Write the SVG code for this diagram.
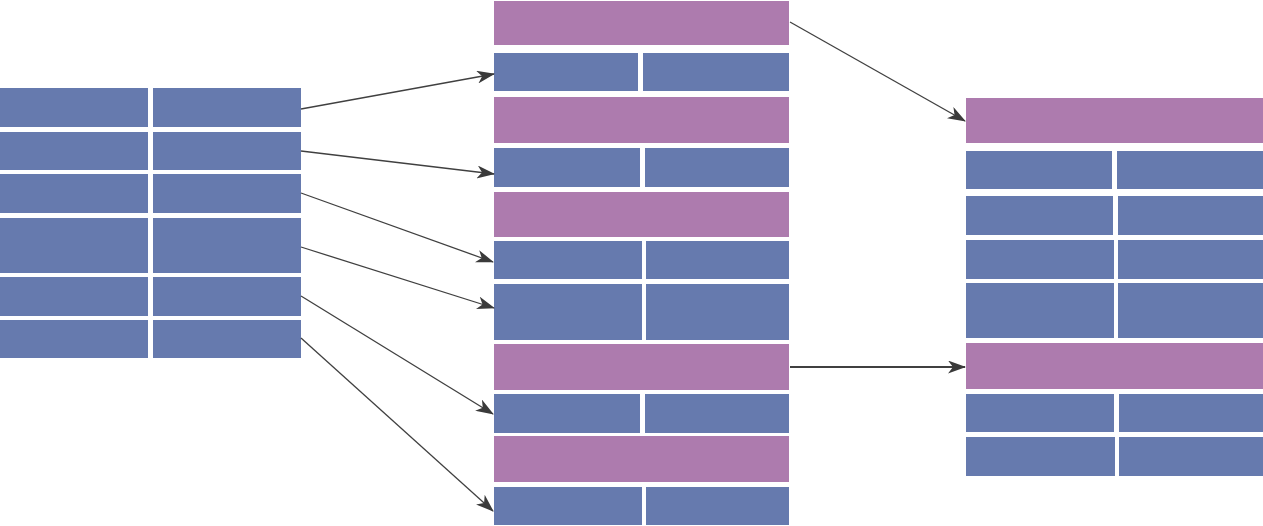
<svg xmlns="http://www.w3.org/2000/svg" width="1263" height="526" viewBox="0 0 1263 526">
<style>
.b{fill:#667aae}
.p{fill:#ad7bae}
.c{stroke:#404040;stroke-width:1.3;fill:none;marker-end:url(#ah)}
</style>
<defs>
<marker id="ah" markerUnits="userSpaceOnUse" markerWidth="18" markerHeight="13" refX="17" refY="6.5" orient="auto" viewBox="0 0 18 13">
<path d="M0,0 L18,6.5 L0,13 L5,6.5 z" fill="#3a3a3a"/>
</marker>
</defs>
<rect width="1263" height="526" fill="#ffffff"/>
<g id="left-table">
<rect class="b" x="0" y="88" width="148" height="39"/><rect class="b" x="153" y="88" width="148" height="39"/>
<rect class="b" x="0" y="132" width="148" height="38"/><rect class="b" x="153" y="132" width="148" height="38"/>
<rect class="b" x="0" y="174" width="148" height="39"/><rect class="b" x="153" y="174" width="148" height="39"/>
<rect class="b" x="0" y="218" width="148" height="55"/><rect class="b" x="153" y="218" width="148" height="55"/>
<rect class="b" x="0" y="277" width="148" height="39"/><rect class="b" x="153" y="277" width="148" height="39"/>
<rect class="b" x="0" y="320" width="148" height="38"/><rect class="b" x="153" y="320" width="148" height="38"/>
</g>
<g id="middle-table">
<rect class="p" x="494" y="1" width="295" height="44"/>
<rect class="b" x="494" y="53" width="144" height="38"/><rect class="b" x="643" y="53" width="146" height="38"/>
<rect class="p" x="494" y="97" width="295" height="46"/>
<rect class="b" x="494" y="148" width="146" height="39"/><rect class="b" x="645" y="148" width="144" height="39"/>
<rect class="p" x="494" y="192" width="295" height="45"/>
<rect class="b" x="494" y="241" width="148" height="38"/><rect class="b" x="646" y="241" width="143" height="38"/>
<rect class="b" x="494" y="284" width="148" height="56"/><rect class="b" x="646" y="284" width="143" height="56"/>
<rect class="p" x="494" y="344" width="295" height="46"/>
<rect class="b" x="494" y="394" width="146" height="39"/><rect class="b" x="645" y="394" width="144" height="39"/>
<rect class="p" x="494" y="436" width="295" height="46"/>
<rect class="b" x="494" y="487" width="148" height="38"/><rect class="b" x="646" y="487" width="143" height="38"/>
</g>
<g id="right-table">
<rect class="p" x="966" y="98" width="297" height="45"/>
<rect class="b" x="966" y="151" width="146" height="38"/><rect class="b" x="1117" y="151" width="146" height="38"/>
<rect class="b" x="966" y="196" width="147" height="39"/><rect class="b" x="1118" y="196" width="145" height="39"/>
<rect class="b" x="966" y="240" width="148" height="39"/><rect class="b" x="1118" y="240" width="145" height="39"/>
<rect class="b" x="966" y="283" width="148" height="55"/><rect class="b" x="1118" y="283" width="145" height="55"/>
<rect class="p" x="966" y="343" width="297" height="46"/>
<rect class="b" x="966" y="394" width="148" height="38"/><rect class="b" x="1119" y="394" width="144" height="38"/>
<rect class="b" x="966" y="437" width="149" height="39"/><rect class="b" x="1119" y="437" width="144" height="39"/>
</g>
<g id="connectors">
<line class="c" x1="301" y1="109" x2="494" y2="74"/>
<line class="c" x1="301" y1="151" x2="494" y2="174"/>
<line class="c" x1="301" y1="193" x2="493" y2="262"/>
<line class="c" x1="301" y1="247" x2="494" y2="308"/>
<line class="c" x1="301" y1="296" x2="493" y2="414"/>
<line class="c" x1="301" y1="338" x2="493" y2="511"/>
<line class="c" x1="790" y1="22" x2="965" y2="121"/>
<line class="c" style="stroke-width:2" x1="790" y1="367" x2="965" y2="367"/>
</g>
</svg>
